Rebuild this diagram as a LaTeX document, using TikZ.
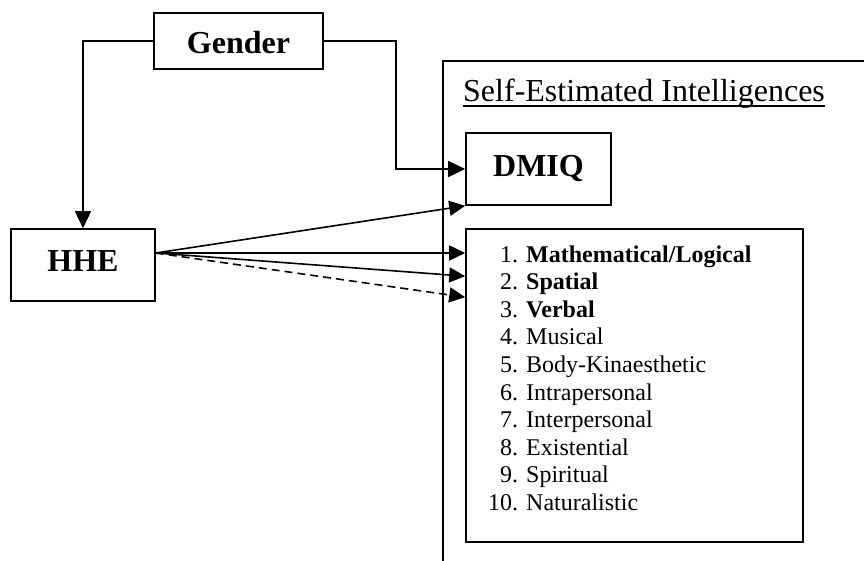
\documentclass[tikz,border=0pt]{standalone}
\usepackage{fontspec}
\setmainfont{Liberation Serif}
\usetikzlibrary{arrows.meta}
\begin{document}
\begin{tikzpicture}[x=1pt,y=-1pt,
  box/.style={draw, line width=1.6pt, rectangle, inner sep=0pt},
  bigtext/.style={font=\fontsize{32}{38}\selectfont\bfseries},
  arr/.style={line width=1.6pt, -{Triangle[length=17pt,width=16pt]}},
  arrs/.style={line width=1.6pt, -{Triangle[length=16pt,width=15pt]}},
  frame/.style={line width=1.6pt}]
\useasboundingbox (0,0) rectangle (864,561);

% predictor boxes
\node[box,bigtext,minimum width=169pt,minimum height=56pt,text height=26pt,text depth=0pt] (gender) at (238.5,41) {Gender};
\node[box,bigtext,minimum width=144pt,minimum height=72pt,text height=22pt,text depth=8pt] (hhe) at (83,265) {HHE};

% open frame holding the outcome measures
\coordinate (frameB) at (443,561);
\coordinate (frameTL) at (443,61);
\coordinate (frameR) at (864,61);
\draw[frame] (frameB) -- (frameTL) -- (frameR);
\node[anchor=base west,inner sep=0pt,font=\fontsize{32}{38}\selectfont] (title) at (463,102) {Self-Estimated Intelligences};
\draw[frame] ([yshift=-4pt]title.base west) -- ([yshift=-4pt]title.base east);

% outcome boxes
\node[box,bigtext,minimum width=145pt,minimum height=72pt] (dmiq) at (538.5,169) {DMIQ};
\node[box,minimum width=337pt,minimum height=313pt] (list) at (634.5,385.5) {};
\node[anchor=base west,inner sep=0pt,font=\fontsize{24}{27.6}\selectfont] (items) at (488,262) {%
  \begin{tabular}[t]{@{}r@{ }l@{}}
  1. & \textbf{Mathematical/Logical}\\
  2. & \textbf{Spatial}\\
  3. & \textbf{Verbal}\\
  4. & Musical\\
  5. & Body-Kinaesthetic\\
  6. & Intrapersonal\\
  7. & Interpersonal\\
  8. & Existential\\
  9. & Spiritual\\
  10. & Naturalistic
  \end{tabular}};

% connectors
\draw[arr] (gender.west) -| (hhe.north);
\draw[arr] (gender.east) -- ++(72,0) |- (dmiq.west);

\coordinate (hheout) at ([yshift=12pt]hhe.east);
\draw[arrs] (hheout) -- (dmiq.south west);
\draw[arrs] (hheout) -- (hheout -| list.west);
\draw[arrs] (hheout) -- ([yshift=-48pt]list.north west);
\draw[arrs,dash pattern=on 8pt off 5pt] (hheout) -- ([yshift=-69pt]list.north west);
\end{tikzpicture}
\end{document}
